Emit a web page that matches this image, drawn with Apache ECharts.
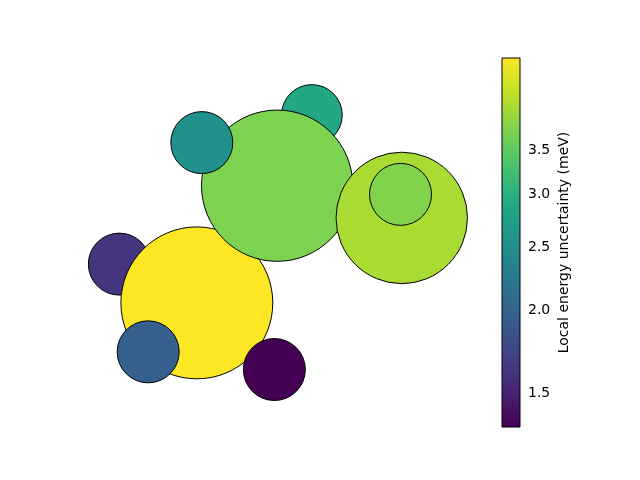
<!DOCTYPE html>
<html>
<head>
<meta charset="utf-8">
<script src="https://cdn.jsdelivr.net/npm/echarts@6/dist/echarts.min.js"></script>
<style>html,body{margin:0;padding:0;background:#fff}#c{width:640px;height:480px}</style>
</head>
<body>
<div id="c"></div>
<script>
// Bubble data (drawing order: bottom to top), positions/radii in data units
const bubbleX = [3.85, 6.35, 4.78, 8.85, 10.06, 8.94, 6.51, 12.96, 12.92];
const bubbleY = [6.48, 5.23, 3.65, 3.08, 11.29, 9.01, 10.40, 7.97, 8.73];
const bubbleR = [1.0, 2.45, 1.0, 1.0, 0.98, 2.44, 1.0, 2.12, 1.0];
const uncertainty = [1.62, 4.84, 1.96, 1.332, 2.89, 3.76, 2.54, 4.09, 3.80];
const colorbarTicks = [1.5, 2.0, 2.5, 3.0, 3.5];
const cbMin = 1.332, cbMax = 4.84;
const viridis = ['#440154','#482475','#414487','#355f8d','#2a788e','#21918c','#22a884','#44bf70','#7ad151','#bddf26','#fde725'];

const bubbles = bubbleX.map((x, i) => [x, bubbleY[i], bubbleR[i], Math.log(uncertainty[i])]);

const chart = echarts.init(document.getElementById('c'));
chart.setOption({
  animation: false,
  textStyle: {fontFamily: 'DejaVu Sans'},
  grid: [
    {left: 0, top: 0, width: 620, height: 465},
    {left: 502, top: 58, width: 18, height: 369, show: true, borderColor: '#000', borderWidth: 1, backgroundColor: 'transparent', z: 5}
  ],
  xAxis: [
    {gridIndex: 0, type: 'value', min: 0, max: 20, show: false},
    {gridIndex: 1, type: 'value', min: 0, max: 1, show: false}
  ],
  yAxis: [
    {gridIndex: 0, type: 'value', min: 0, max: 15, show: false},
    {gridIndex: 1, type: 'log', min: cbMin, max: cbMax, position: 'right',
     axisLine: {show: false},
     splitLine: {show: false},
     axisTick: {show: true, length: 4, lineStyle: {color: '#000'}, customValues: colorbarTicks},
     axisLabel: {show: true, margin: 8, color: '#000', fontSize: 14, customValues: colorbarTicks,
                 formatter: v => Number(v).toFixed(1)},
     name: 'Local energy uncertainty (meV)', nameLocation: 'middle', nameRotate: 90, nameGap: 37,
     nameTextStyle: {color: '#000', fontSize: 14}}
  ],
  visualMap: {
    show: false, type: 'continuous', seriesIndex: 0, dimension: 3,
    min: Math.log(cbMin), max: Math.log(cbMax), inRange: {color: viridis}
  },
  series: [
    {
      type: 'custom', xAxisIndex: 0, yAxisIndex: 0, clip: false,
      data: bubbles,
      encode: {x: 0, y: 1},
      renderItem: function (params, api) {
        const c = api.coord([api.value(0), api.value(1)]);
        const r = api.size([api.value(2), api.value(2)])[0];
        return {type: 'circle', shape: {cx: c[0], cy: c[1], r: r},
                style: {fill: api.visual('color'), stroke: '#000', lineWidth: 1}};
      }
    },
    {
      type: 'custom', xAxisIndex: 1, yAxisIndex: 1, clip: false, silent: true,
      data: [[0, cbMin, 1, cbMax]],
      encode: {x: [0, 2], y: [1, 3]},
      renderItem: function (params, api) {
        const p0 = api.coord([api.value(0), api.value(3)]);
        const p1 = api.coord([api.value(2), api.value(1)]);
        const stops = viridis.slice().reverse().map((col, i) => ({offset: i / (viridis.length - 1), color: col}));
        return {type: 'rect', shape: {x: p0[0], y: p0[1], width: p1[0] - p0[0], height: p1[1] - p0[1]},
                style: {fill: new echarts.graphic.LinearGradient(0, 0, 0, 1, stops)}};
      }
    }
  ]
});
</script>
</body>
</html>
